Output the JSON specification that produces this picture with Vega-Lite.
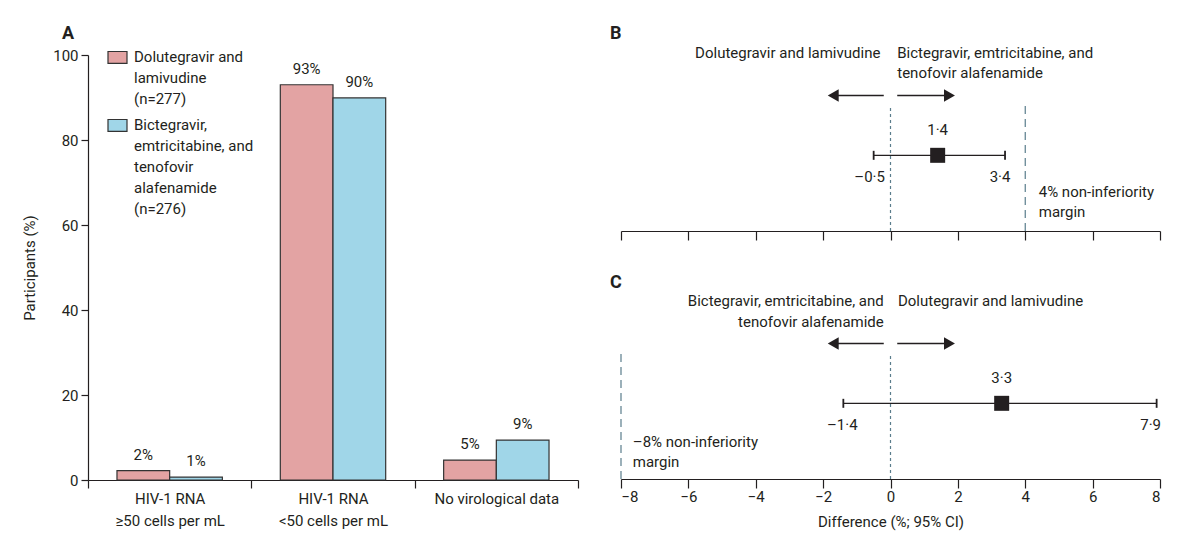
{
  "$schema": "https://vega.github.io/schema/vega-lite/v6.json",
  "padding": {"left": 22, "top": 25, "right": 5, "bottom": 5},
  "background": "white",
  "config": {
    "font": "Roboto",
    "view": {"stroke": null},
    "style": {"guide-label": {"lineHeight": 21}},
    "axis": {"labelFont": "Roboto", "labelFontSize": 15, "labelColor": "#231f20", "titleFont": "Roboto", "titleFontSize": 15, "titleFontWeight": "normal", "titleColor": "#231f20", "domainColor": "#231f20", "tickColor": "#231f20", "grid": false, "domainWidth": 1.2, "tickWidth": 1.2},
    "title": {"font": "Roboto", "fontSize": 18, "fontWeight": "bold", "color": "#231f20", "anchor": "start", "frame": "group"},
    "text": {"font": "Roboto", "fontSize": 15, "color": "#231f20"}
  },
  "datasets": {
    "bars": [
      {"outcome": "HIV-1 RNA|≥50 cells per mL", "group": "Dolutegravir and lamivudine (n=277)", "pct": 2.2, "label": "2%"},
      {"outcome": "HIV-1 RNA|≥50 cells per mL", "group": "Bictegravir, emtricitabine, and tenofovir alafenamide (n=276)", "pct": 0.7, "label": "1%"},
      {"outcome": "HIV-1 RNA|<50 cells per mL", "group": "Dolutegravir and lamivudine (n=277)", "pct": 93.0, "label": "93%"},
      {"outcome": "HIV-1 RNA|<50 cells per mL", "group": "Bictegravir, emtricitabine, and tenofovir alafenamide (n=276)", "pct": 89.9, "label": "90%"},
      {"outcome": "No virological data", "group": "Dolutegravir and lamivudine (n=277)", "pct": 4.7, "label": "5%"},
      {"outcome": "No virological data", "group": "Bictegravir, emtricitabine, and tenofovir alafenamide (n=276)", "pct": 9.4, "label": "9%"}
    ],
    "forest": [
      {"panel": "B", "est": 1.4, "lo": -0.5, "hi": 3.4, "y": 43, "est_label": "1·4", "lo_label": "–0·5", "hi_label": "3·4"},
      {"panel": "C", "est": 3.3, "lo": -1.4, "hi": 7.9, "y": 43, "est_label": "3·3", "lo_label": "–1·4", "hi_label": "7·9"}
    ],
    "refs": [
      {"panel": "B", "x": 0, "kind": "zero", "bottom": 0, "top": 71},
      {"panel": "B", "x": 4, "kind": "margin", "bottom": 0, "top": 72},
      {"panel": "C", "x": 0, "kind": "zero", "bottom": 0, "top": 71},
      {"panel": "C", "x": -8, "kind": "margin", "bottom": 0, "top": 72}
    ],
    "arrows": [
      {"panel": "B", "from": -0.2, "head": -1.7, "y": 77, "dir": "left"},
      {"panel": "B", "from": 0.2, "head": 1.75, "y": 77, "dir": "right"},
      {"panel": "C", "from": -0.2, "head": -1.7, "y": 77, "dir": "left"},
      {"panel": "C", "from": 0.2, "head": 1.75, "y": 77, "dir": "right"}
    ],
    "notes": [
      {"panel": "B", "text": "Dolutegravir and lamivudine", "x": -0.3, "y": 101, "side": "left"},
      {"panel": "B", "text": "Bictegravir, emtricitabine, and", "x": 0.2, "y": 101, "side": "right"},
      {"panel": "B", "text": "tenofovir alafenamide", "x": 0.2, "y": 89.5, "side": "right"},
      {"panel": "B", "text": "4% non-inferiority", "x": 4.4, "y": 22, "side": "right"},
      {"panel": "B", "text": "margin", "x": 4.4, "y": 10.8, "side": "right"},
      {"panel": "C", "text": "Bictegravir, emtricitabine, and", "x": -0.2, "y": 101, "side": "left"},
      {"panel": "C", "text": "tenofovir alafenamide", "x": -0.2, "y": 89.2, "side": "left"},
      {"panel": "C", "text": "Dolutegravir and lamivudine", "x": 0.22, "y": 101, "side": "right"},
      {"panel": "C", "text": "–8% non-inferiority", "x": -7.65, "y": 21, "side": "right"},
      {"panel": "C", "text": "margin", "x": -7.65, "y": 9.7, "side": "right"}
    ]
  },
  "spacing": 43,
  "bounds": "flush",
  "hconcat": [
    {
      "width": 490,
      "height": 425,
      "title": {"text": "A", "dx": -26, "offset": 5},
      "data": {"name": "bars"},
      "layer": [
        {
          "mark": {"type": "bar", "stroke": "#333333", "strokeWidth": 1.2},
          "encoding": {
            "x": {"field": "outcome", "type": "nominal", "sort": ["HIV-1 RNA|≥50 cells per mL", "HIV-1 RNA|<50 cells per mL", "No virological data"], "scale": {"paddingInner": 0, "paddingOuter": 0},
                  "axis": {"title": null, "labelAngle": 0, "tickBand": "extent", "tickSize": 8, "labelPadding": 3, "labelLineHeight": 22, "labelExpr": "split(datum.label, '|')"}},
            "xOffset": {"field": "group", "type": "nominal", "sort": ["Dolutegravir and lamivudine (n=277)", "Bictegravir, emtricitabine, and tenofovir alafenamide (n=276)"], "scale": {"paddingInner": 0, "paddingOuter": 0.55}},
            "y": {"field": "pct", "type": "quantitative", "scale": {"domain": [0, 100], "nice": false},
                  "axis": {"title": "Participants (%)", "values": [0, 20, 40, 60, 80, 100], "tickSize": 7, "labelPadding": 3, "titlePadding": 15}},
            "fill": {"field": "group", "type": "nominal", "sort": ["Dolutegravir and lamivudine (n=277)", "Bictegravir, emtricitabine, and tenofovir alafenamide (n=276)"],
                     "scale": {"range": ["#e3a3a3", "#a0d6e8"]},
                     "legend": {"orient": "none", "legendX": 19, "legendY": -16, "title": null, "padding": 0,
                                "symbolType": "M-1,0.21H1V1.47H-1Z", "symbolSize": 361, "symbolStrokeColor": "#333333", "symbolStrokeWidth": 1.2,
                                "labelFont": "Roboto", "labelFontSize": 15, "labelColor": "#231f20", "labelOffset": 6, "labelLimit": 300,
                                "labelBaseline": "top", "rowPadding": -4,
                                "labelExpr": "datum.label == 'Dolutegravir and lamivudine (n=277)' ? ['Dolutegravir and', 'lamivudine', '(n=277)'] : ['Bictegravir,', 'emtricitabine, and', 'tenofovir', 'alafenamide', '(n=276)']"}}
          }
        },
        {
          "mark": {"type": "text", "baseline": "bottom", "dy": -8},
          "encoding": {
            "x": {"field": "outcome", "type": "nominal", "sort": ["HIV-1 RNA|≥50 cells per mL", "HIV-1 RNA|<50 cells per mL", "No virological data"]},
            "xOffset": {"field": "group", "type": "nominal", "sort": ["Dolutegravir and lamivudine (n=277)", "Bictegravir, emtricitabine, and tenofovir alafenamide (n=276)"]},
            "y": {"field": "pct", "type": "quantitative"},
            "text": {"field": "label"}
          }
        }
      ]
    },
    {
      "spacing": 72,
      "bounds": "flush",
      "vconcat": [
        {
          "width": 539,
          "height": 176,
          "title": {"text": "B", "dx": -11, "offset": 3},
          "layer": [
            {
              "data": {"name": "refs"},
              "transform": [{"filter": "datum.panel == 'B'"}],
              "mark": {"type": "rule", "color": "#5a7d8c", "strokeWidth": 1.2},
              "encoding": {
                "x": {"field": "x", "type": "quantitative", "scale": {"domain": [-8, 8], "nice": false},
                      "axis": {"values": [-8, -6, -4, -2, 0, 2, 4, 6, 8], "labels": false, "title": null, "tickSize": 9}},
                "y": {"field": "bottom", "type": "quantitative", "scale": {"domain": [0, 100], "nice": false}, "axis": null},
                "y2": {"field": "top"},
                "strokeDash": {"field": "kind", "type": "nominal", "scale": {"domain": ["zero", "margin"], "range": [[3, 3], [8, 5]]}, "legend": null}
              }
            },
            {
              "data": {"name": "forest"},
              "transform": [{"filter": "datum.panel == 'B'"}],
              "mark": {"type": "rule", "color": "#231f20", "strokeWidth": 1.3},
              "encoding": {"x": {"field": "lo", "type": "quantitative"}, "x2": {"field": "hi"}, "y": {"field": "y", "type": "quantitative"}}
            },
            {
              "data": {"name": "forest"},
              "transform": [{"filter": "datum.panel == 'B'"}],
              "mark": {"type": "tick", "orient": "vertical", "color": "#231f20", "size": 9, "thickness": 1.8, "opacity": 1},
              "encoding": {"x": {"field": "lo", "type": "quantitative"}, "y": {"field": "y", "type": "quantitative"}}
            },
            {
              "data": {"name": "forest"},
              "transform": [{"filter": "datum.panel == 'B'"}],
              "mark": {"type": "tick", "orient": "vertical", "color": "#231f20", "size": 9, "thickness": 1.8, "opacity": 1},
              "encoding": {"x": {"field": "hi", "type": "quantitative"}, "y": {"field": "y", "type": "quantitative"}}
            },
            {
              "data": {"name": "forest"},
              "transform": [{"filter": "datum.panel == 'B'"}],
              "mark": {"type": "point", "shape": "square", "filled": true, "size": 225, "color": "#231f20", "opacity": 1},
              "encoding": {"x": {"field": "est", "type": "quantitative"}, "y": {"field": "y", "type": "quantitative"}}
            },
            {
              "data": {"name": "forest"},
              "transform": [{"filter": "datum.panel == 'B'"}],
              "mark": {"type": "text", "dy": -25},
              "encoding": {"x": {"field": "est", "type": "quantitative"}, "y": {"field": "y", "type": "quantitative"}, "text": {"field": "est_label"}}
            },
            {
              "data": {"name": "forest"},
              "transform": [{"filter": "datum.panel == 'B'"}],
              "mark": {"type": "text", "dy": 22, "dx": -4},
              "encoding": {"x": {"field": "lo", "type": "quantitative"}, "y": {"field": "y", "type": "quantitative"}, "text": {"field": "lo_label"}}
            },
            {
              "data": {"name": "forest"},
              "transform": [{"filter": "datum.panel == 'B'"}],
              "mark": {"type": "text", "dy": 22, "dx": -5},
              "encoding": {"x": {"field": "hi", "type": "quantitative"}, "y": {"field": "y", "type": "quantitative"}, "text": {"field": "hi_label"}}
            },
            {
              "data": {"name": "arrows"},
              "transform": [{"filter": "datum.panel == 'B'"}],
              "mark": {"type": "rule", "color": "#231f20", "strokeWidth": 1.6},
              "encoding": {"x": {"field": "from", "type": "quantitative"}, "x2": {"field": "head"}, "y": {"field": "y", "type": "quantitative"}}
            },
            {
              "data": {"name": "arrows"},
              "transform": [{"filter": "datum.panel == 'B'"}],
              "mark": {"type": "point", "filled": true, "size": 160, "color": "#231f20", "opacity": 1},
              "encoding": {"x": {"field": "head", "type": "quantitative"}, "y": {"field": "y", "type": "quantitative"},
                           "shape": {"field": "dir", "type": "nominal", "scale": {"domain": ["left", "right"], "range": ["triangle-left", "triangle-right"]}, "legend": null}}
            },
            {
              "data": {"name": "notes"},
              "transform": [{"filter": "datum.panel == 'B' && datum.side == 'left'"}],
              "mark": {"type": "text", "align": "right", "baseline": "middle"},
              "encoding": {"x": {"field": "x", "type": "quantitative"}, "y": {"field": "y", "type": "quantitative"}, "text": {"field": "text"}}
            },
            {
              "data": {"name": "notes"},
              "transform": [{"filter": "datum.panel == 'B' && datum.side == 'right'"}],
              "mark": {"type": "text", "align": "left", "baseline": "middle"},
              "encoding": {"x": {"field": "x", "type": "quantitative"}, "y": {"field": "y", "type": "quantitative"}, "text": {"field": "text"}}
            }
          ]
        },
        {
          "width": 539,
          "height": 176,
          "title": {"text": "C", "dx": -11, "offset": 2},
          "layer": [
            {
              "data": {"name": "refs"},
              "transform": [{"filter": "datum.panel == 'C'"}],
              "mark": {"type": "rule", "color": "#5a7d8c", "strokeWidth": 1.2},
              "encoding": {
                "x": {"field": "x", "type": "quantitative", "scale": {"domain": [-8, 8], "nice": false},
                      "axis": {"values": [-8, -6, -4, -2, 0, 2, 4, 6, 8], "title": "Difference (%; 95% CI)", "tickSize": 9, "labelPadding": 1, "titlePadding": 10}},
                "y": {"field": "bottom", "type": "quantitative", "scale": {"domain": [0, 100], "nice": false}, "axis": null},
                "y2": {"field": "top"},
                "strokeDash": {"field": "kind", "type": "nominal", "scale": {"domain": ["zero", "margin"], "range": [[3, 3], [8, 5]]}, "legend": null}
              }
            },
            {
              "data": {"name": "forest"},
              "transform": [{"filter": "datum.panel == 'C'"}],
              "mark": {"type": "rule", "color": "#231f20", "strokeWidth": 1.3},
              "encoding": {"x": {"field": "lo", "type": "quantitative"}, "x2": {"field": "hi"}, "y": {"field": "y", "type": "quantitative"}}
            },
            {
              "data": {"name": "forest"},
              "transform": [{"filter": "datum.panel == 'C'"}],
              "mark": {"type": "tick", "orient": "vertical", "color": "#231f20", "size": 9, "thickness": 1.8, "opacity": 1},
              "encoding": {"x": {"field": "lo", "type": "quantitative"}, "y": {"field": "y", "type": "quantitative"}}
            },
            {
              "data": {"name": "forest"},
              "transform": [{"filter": "datum.panel == 'C'"}],
              "mark": {"type": "tick", "orient": "vertical", "color": "#231f20", "size": 9, "thickness": 1.8, "opacity": 1},
              "encoding": {"x": {"field": "hi", "type": "quantitative"}, "y": {"field": "y", "type": "quantitative"}}
            },
            {
              "data": {"name": "forest"},
              "transform": [{"filter": "datum.panel == 'C'"}],
              "mark": {"type": "point", "shape": "square", "filled": true, "size": 225, "color": "#231f20", "opacity": 1},
              "encoding": {"x": {"field": "est", "type": "quantitative"}, "y": {"field": "y", "type": "quantitative"}}
            },
            {
              "data": {"name": "forest"},
              "transform": [{"filter": "datum.panel == 'C'"}],
              "mark": {"type": "text", "dy": -25},
              "encoding": {"x": {"field": "est", "type": "quantitative"}, "y": {"field": "y", "type": "quantitative"}, "text": {"field": "est_label"}}
            },
            {
              "data": {"name": "forest"},
              "transform": [{"filter": "datum.panel == 'C'"}],
              "mark": {"type": "text", "dy": 22, "dx": -1},
              "encoding": {"x": {"field": "lo", "type": "quantitative"}, "y": {"field": "y", "type": "quantitative"}, "text": {"field": "lo_label"}}
            },
            {
              "data": {"name": "forest"},
              "transform": [{"filter": "datum.panel == 'C'"}],
              "mark": {"type": "text", "dy": 22, "dx": -6},
              "encoding": {"x": {"field": "hi", "type": "quantitative"}, "y": {"field": "y", "type": "quantitative"}, "text": {"field": "hi_label"}}
            },
            {
              "data": {"name": "arrows"},
              "transform": [{"filter": "datum.panel == 'C'"}],
              "mark": {"type": "rule", "color": "#231f20", "strokeWidth": 1.6},
              "encoding": {"x": {"field": "from", "type": "quantitative"}, "x2": {"field": "head"}, "y": {"field": "y", "type": "quantitative"}}
            },
            {
              "data": {"name": "arrows"},
              "transform": [{"filter": "datum.panel == 'C'"}],
              "mark": {"type": "point", "filled": true, "size": 160, "color": "#231f20", "opacity": 1},
              "encoding": {"x": {"field": "head", "type": "quantitative"}, "y": {"field": "y", "type": "quantitative"},
                           "shape": {"field": "dir", "type": "nominal", "scale": {"domain": ["left", "right"], "range": ["triangle-left", "triangle-right"]}, "legend": null}}
            },
            {
              "data": {"name": "notes"},
              "transform": [{"filter": "datum.panel == 'C' && datum.side == 'left'"}],
              "mark": {"type": "text", "align": "right", "baseline": "middle"},
              "encoding": {"x": {"field": "x", "type": "quantitative"}, "y": {"field": "y", "type": "quantitative"}, "text": {"field": "text"}}
            },
            {
              "data": {"name": "notes"},
              "transform": [{"filter": "datum.panel == 'C' && datum.side == 'right'"}],
              "mark": {"type": "text", "align": "left", "baseline": "middle"},
              "encoding": {"x": {"field": "x", "type": "quantitative"}, "y": {"field": "y", "type": "quantitative"}, "text": {"field": "text"}}
            }
          ]
        }
      ]
    }
  ]
}
